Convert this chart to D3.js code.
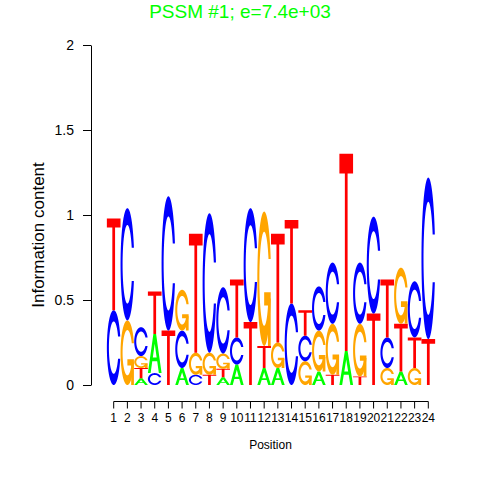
<!DOCTYPE html>
<html><head><meta charset="utf-8">
<script src="https://cdn.jsdelivr.net/npm/d3@7"></script>
<style>
html,body{margin:0;padding:0;background:#fff;}
svg{display:block;font-family:"Liberation Sans",Arial,Helvetica,sans-serif;}
</style></head>
<body><svg id="chart" width="480" height="480"></svg>
<script>
// ---- data ----
const positions = ["1","2","3","4","5","6","7","8","9","10","11","12","13","14","15","16","17","18","19","20","21","22","23","24"];
const bases = ["A","C","G","T"];
const heightA = [0,    0,    0.04, 0.23, 0,    0.10, 0,    0,    0.045,0.12, 0,    0.10, 0.10, 0,    0,    0.08, 0,    0.20, 0,    0,    0,    0.08, 0,    0];
const heightC = [0.44, 0.66, 0.17, 0.07, 0.79, 0.22, 0.06, 0.82, 0.39, 0.16, 0.67, 0,    0,    0.48, 0.15, 0.26, 0.36, 0,    0.36, 0.57, 0.18, 0,    0.33, 0.95];
const heightG = [0,    0.38, 0.07, 0,    0,    0.24, 0.13, 0.13, 0.09, 0,    0,    0.79, 0.15, 0,    0.14, 0.24, 0.30, 0,    0.31, 0,    0.10, 0.33, 0.10, 0];
const heightT = [0.54, 0,    0.06, 0.25, 0.32, 0,    0.70, 0.06, 0.05, 0.34, 0.37, 0.13, 0.64, 0.49, 0.15, 0,    0.06, 1.16, 0.05, 0.42, 0.34, 0.28, 0.18, 0.27];
const yTicks = [0, 0.5, 1, 1.5, 2];
const titleText = "PSSM #1; e=7.4e+03";
const colors = {A:"#00ff00", C:"#0000ff", G:"#ffa500", T:"#ff0000"};

// ---- glyph polygons (seqLogo style, unit square) ----
function seq(a,b,n){const r=[];for(let i=0;i<n;i++)r.push(a+(b-a)*i/(n-1));return r;}
function ringPoly(){
  const a1=seq(0.3+Math.PI/2,Math.PI,100), a2=seq(Math.PI,1.5*Math.PI,100);
  const xl1=a1.map(a=>0.5+0.5*Math.sin(a)), yl1=a1.map(a=>0.5+0.5*Math.cos(a));
  const xl2=a2.map(a=>0.5+0.5*Math.sin(a)), yl2=a2.map(a=>0.5+0.5*Math.cos(a));
  const xl=xl1.concat(xl2), yl=yl1.concat(yl2);
  let x=xl.concat(xl.slice().reverse()), y=yl.concat(yl.slice().reverse().map(v=>1-v));
  const maxY=Math.max(...yl1);
  let xi1=a1.map(a=>0.5+0.35*Math.sin(a)), yi1=a1.map(a=>0.5+0.35*Math.cos(a));
  const keep=yi1.map(v=>v<=maxY);
  xi1=xi1.filter((v,i)=>keep[i]); yi1=yi1.filter((v,i)=>keep[i]); yi1[0]=maxY;
  const xi2=a2.map(a=>0.5+0.35*Math.sin(a)), yi2=a2.map(a=>0.5+0.35*Math.cos(a));
  const xi=xi1.concat(xi2), yi=yi1.concat(yi2);
  const x1=xi.concat(xi.slice().reverse()), y1=yi.concat(yi.slice().reverse().map(v=>1-v));
  x=x.concat(x1.slice().reverse()); y=y.concat(y1.slice().reverse());
  return {x, y, r1: Math.max(...xl1)};
}
const ring = ringPoly();
const glyphs = {
  A: [[[0,0],[0.4,1],[0.6,1],[1,0],[0.8,0],[0.68,0.3],[0.32,0.3],[0.2,0]],
      [[0.36,0.4],[0.5,0.75],[0.64,0.4]]],
  T: [[[0,1],[1,1],[1,0.9],[0.6,0.9],[0.6,0],[0.4,0],[0.4,0.9],[0,0.9]]],
  C: [ring.x.map((v,i)=>[v,ring.y[i]])],
  G: [ring.x.map((v,i)=>[v,ring.y[i]]),
      [[ring.r1,0.4],[0.5,0.4],[0.5,0.3],[ring.r1-0.2,0.3],[ring.r1-0.2,0],[ring.r1,0],[ring.r1,0.4]]]
};

// ---- scales ----
const svg = d3.select("#chart");
const x = d3.scaleBand().domain(positions).range([106.86, 435.14]).padding(0);
const y = d3.scaleLinear().domain([0,2]).range([385,45]);
const bw = x.bandwidth();

// ---- stacks ----
const table = {A:heightA, C:heightC, G:heightG, T:heightT};
const gLogo = svg.append("g");
positions.forEach((p,i)=>{
  const stack = bases.map(b=>({b, h:table[b][i]})).filter(d=>d.h>0)
                     .sort((a,b)=>a.h-b.h);
  let base = 0;
  stack.forEach(d=>{
    const x0 = x(p), yb = y(base), yt = y(base+d.h), hpx = yb-yt;
    const line = d3.line().x(q=>x0+q[0]*bw).y(q=>yb-q[1]*hpx);
    if (d.b==="A") {
      gLogo.append("path").attr("d", glyphs.A.map(poly=>line(poly)+"Z").join(""))
        .attr("fill", colors.A).attr("fill-rule","evenodd");
    } else {
      glyphs[d.b].forEach(poly=>{
        gLogo.append("path").attr("d", line(poly)+"Z").attr("fill", colors[d.b]);
      });
    }
    base += d.h;
  });
});

// ---- axes ----
const xAxis = svg.append("g").attr("transform","translate(0,401.5)")
  .call(d3.axisBottom(x).tickSize(7).tickSizeOuter(0).tickPadding(5));
xAxis.select(".domain").attr("d", `M${x(positions[0])+bw/2},0H${x(positions[positions.length-1])+bw/2}`);
xAxis.selectAll("text").attr("font-size",12).attr("font-family","Liberation Sans, Arial, sans-serif").attr("fill","#000");
xAxis.selectAll("line,path").attr("stroke","#000");

const yAxis = svg.append("g").attr("transform","translate(91,0)")
  .call(d3.axisLeft(y).tickValues(yTicks).tickFormat(d=>String(d)).tickSize(8).tickSizeOuter(0).tickPadding(9));
yAxis.selectAll("text").attr("font-size",14).attr("font-family","Liberation Sans, Arial, sans-serif").attr("fill","#000");
yAxis.selectAll("line,path").attr("stroke","#000");

// ---- titles ----
svg.append("text").attr("x",240).attr("y",17.5).attr("text-anchor","middle")
  .attr("font-size",19).attr("fill","#00ff00").text(titleText);
svg.append("text").attr("x",270.5).attr("y",449).attr("text-anchor","middle")
  .attr("font-size",12).attr("fill","#000").text("Position");
svg.append("text").attr("transform","translate(44,235) rotate(-90)").attr("text-anchor","middle")
  .attr("font-size",17).attr("fill","#000").text("Information content");
</script></body></html>
